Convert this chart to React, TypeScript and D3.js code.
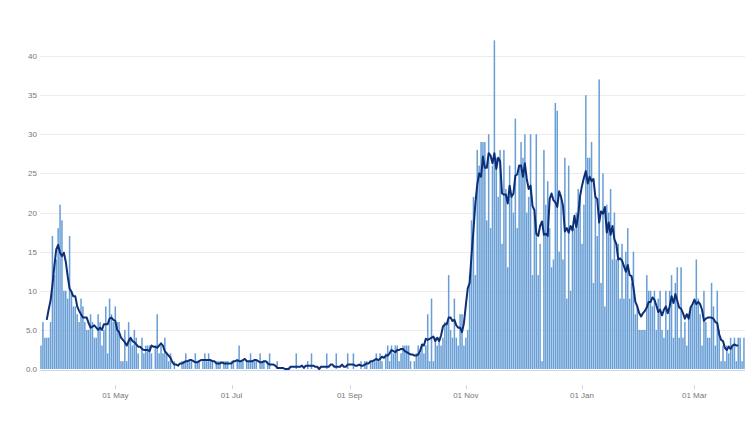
import React from "react";
import * as d3 from "d3";

// Daily values, 23 Mar 2020 – 27 Mar 2021
const mar2020 = [3, 6, 4, 4, 4, 6, 17, 12, 14];
const apr2020 = [18, 21, 19, 10, 10, 9, 17, 10, 8, 8, 7, 6, 9, 8, 6, 5, 5, 7, 6, 4, 4, 7, 6, 3, 5, 8, 2, 9, 7, 6];
const may2020 = [8, 6, 6, 1, 1, 5, 1, 6, 4, 3, 5, 4, 2, 0, 4, 2, 3, 3, 3, 2, 0, 3, 7, 2, 3, 2, 4, 2, 1, 2, 0];
const jun2020 = [1, 0, 0, 0, 1, 1, 2, 1, 1, 1, 0, 2, 1, 1, 0, 1, 2, 1, 2, 1, 1, 0, 1, 1, 1, 0, 1, 1, 1, 0];
const jul2020 = [1, 1, 0, 1, 3, 1, 1, 0, 1, 1, 2, 1, 1, 1, 0, 2, 1, 1, 0, 1, 2, 0, 0, 0, 1, 0, 0, 0, 0, 0, 0];
const aug2020 = [0, 0, 0, 2, 0, 0, 0, 0, 0, 1, 0, 2, 0, 0, 0, 0, 0, 0, 0, 2, 0, 0, 0, 0, 2, 0, 0, 0, 0, 0, 2];
const sep2020 = [0, 0, 2, 0, 0, 0, 1, 0, 1, 1, 0, 1, 1, 1, 2, 1, 2, 1, 0, 2, 3, 1, 3, 2, 3, 3, 1, 2, 3, 3];
const oct2020 = [3, 3, 1, 0, 1, 2, 3, 2, 3, 2, 3, 7, 1, 9, 1, 4, 3, 4, 3, 4, 6, 6, 12, 5, 4, 9, 4, 3, 7, 7, 3];
const nov2020 = [4, 5, 12, 19, 22, 12, 28, 26, 29, 29, 29, 19, 30, 18, 26, 42, 27, 22, 28, 16, 28, 23, 13, 26, 22, 20, 32, 18, 26, 29];
const dec2020 = [27, 30, 20, 22, 30, 12, 20, 30, 12, 16, 1, 28, 21, 24, 18, 13, 14, 34, 33, 15, 22, 14, 27, 9, 26, 10, 18, 18, 20, 23, 22];
const jan2021 = [16, 21, 35, 27, 27, 29, 11, 22, 17, 37, 11, 25, 8, 21, 20, 23, 14, 20, 14, 16, 9, 16, 9, 15, 18, 9, 11, 15, 7, 8, 5];
const feb2021 = [5, 5, 5, 12, 10, 10, 8, 10, 5, 9, 10, 5, 4, 10, 5, 10, 12, 4, 11, 13, 4, 13, 4, 6, 3, 7, 8, 8];
const mar2021 = [9, 14, 9, 7, 3, 10, 6, 4, 4, 11, 8, 3, 10, 5, 1, 3, 1, 3, 2, 4, 3, 4, 1, 4, 4, 1, 4];

const startDate = new Date(2020, 2, 23);
const yTicks = [0, 5, 10, 15, 20, 25, 30, 35, 40];
const yTickLabels = ["0.0", "5.0", "10", "15", "20", "25", "30", "35", "40"];
const xTickDates = [
  new Date(2020, 4, 1),
  new Date(2020, 6, 1),
  new Date(2020, 8, 1),
  new Date(2020, 10, 1),
  new Date(2021, 0, 1),
  new Date(2021, 2, 1),
];

const values = [
  ...mar2020, ...apr2020, ...may2020, ...jun2020, ...jul2020, ...aug2020,
  ...sep2020, ...oct2020, ...nov2020, ...dec2020, ...jan2021, ...feb2021, ...mar2021,
];

const data = values.map((v, i) => ({ date: d3.timeDay.offset(startDate, i), value: v }));

// centred 7-day rolling average
const avg = data
  .map((d, i) => {
    if (i < 3 || i > data.length - 4) return null;
    const s = d3.sum(values.slice(i - 3, i + 4));
    return { date: d.date, value: s / 7 };
  })
  .filter((d) => d !== null) as { date: Date; value: number }[];

export default function App() {
  const W = 750;
  const H = 447;
  const step = 1.905;
  const x = d3
    .scaleTime()
    .domain([startDate, d3.timeDay.offset(startDate, values.length - 1)])
    .range([41, 41 + step * (values.length - 1)]);
  const y = d3.scaleLinear().domain([0, 40]).range([369, 56]);
  const barW = step * 0.8;
  const fmt = d3.timeFormat("%d %b");
  const line = d3
    .line<{ date: Date; value: number }>()
    .x((d) => x(d.date))
    .y((d) => y(d.value))
    .curve(d3.curveLinear);

  const font = "'Liberation Sans', Arial, sans-serif";

  return (
    <svg
      width={W}
      height={H}
      style={{ position: "absolute", left: 0, top: 0, background: "#fff" }}
    >
      {yTicks.map((t, i) =>
        t === 0 ? null : (
          <line key={"g" + i} x1={40} x2={745} y1={Math.round(y(t)) + 0.5} y2={Math.round(y(t)) + 0.5} stroke="#ececec" strokeWidth={1} />
        )
      )}
      {yTicks.map((t, i) => (
        <text
          key={"yl" + i}
          x={37}
          y={y(t) + 3}
          textAnchor="end"
          fontSize={8}
          fontFamily={font}
          fill="#777"
        >
          {yTickLabels[i]}
        </text>
      ))}
      {data.map((d, i) => (
        <rect
          key={"b" + i}
          x={x(d.date) - barW / 2}
          y={y(d.value)}
          width={barW}
          height={y(0) - y(d.value)}
          fill="#6a9fd6"
        />
      ))}
      <line x1={40} x2={745} y1={370.5} y2={370.5} stroke="#ccd6eb" strokeWidth={1} />
      <path d={line(avg) || ""} fill="none" stroke="#0d2f78" strokeWidth={2} strokeLinejoin="round" />
      {xTickDates.map((d, i) => (
        <g key={"xt" + i}>
          <line x1={Math.round(x(d)) + 0.5} x2={Math.round(x(d)) + 0.5} y1={385} y2={389} stroke="#ccd6eb" strokeWidth={1} />
          <text
            x={x(d)}
            y={398}
            textAnchor="middle"
            fontSize={8}
            fontFamily={font}
            fill="#777"
          >
            {fmt(d)}
          </text>
        </g>
      ))}
    </svg>
  );
}
